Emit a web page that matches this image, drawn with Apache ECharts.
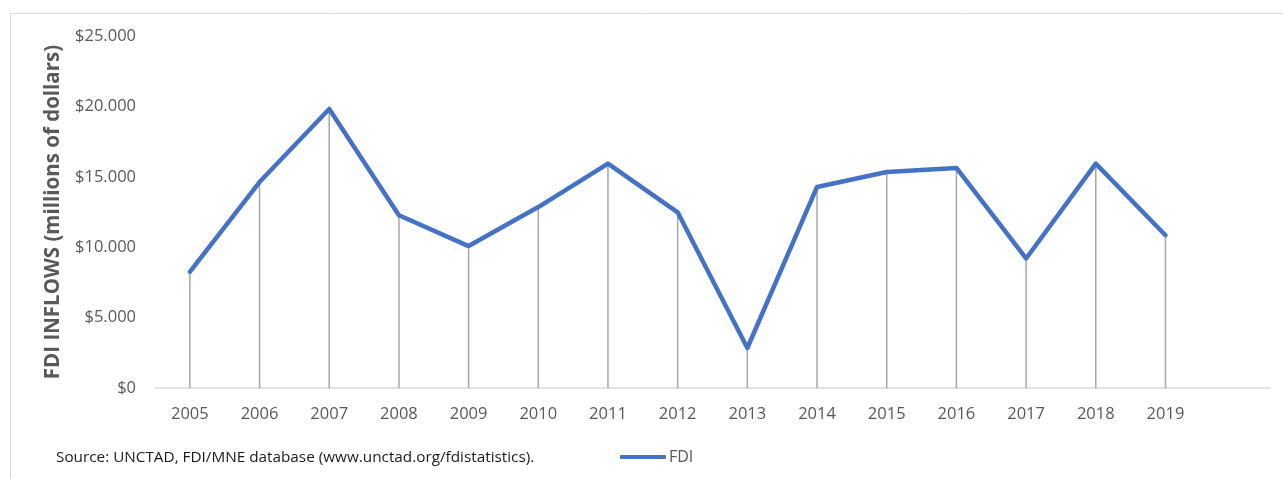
<!DOCTYPE html>
<html>
<head>
<meta charset="utf-8">
<script src="https://cdn.jsdelivr.net/npm/echarts@6/dist/echarts.min.js"></script>
<style>
  html, body { margin: 0; padding: 0; background: #ffffff; }
  #chart { width: 1283px; height: 479px; }
</style>
</head>
<body>
<div id="chart"></div>
<script>
// FDI inflows by year, millions of dollars
const years = ['2005', '2006', '2007', '2008', '2009', '2010', '2011', '2012', '2013', '2014', '2015', '2016', '2017', '2018', '2019', ''];
const fdiValues = [8250, 14630, 19820, 12270, 10080, 12850, 15940, 12480, 2840, 14280, 15340, 15630, 9200, 15940, 10850, null];
const yTicks = [0, 5000, 10000, 15000, 20000, 25000];

function formatDollar(v) {
  if (v === 0) return '$0';
  const s = String(Math.round(v));
  return '$' + s.replace(/\B(?=(\d{3})+(?!\d))/g, '.');
}

const chart = echarts.init(document.getElementById('chart'), null, { renderer: 'canvas' });

chart.setOption({
  animation: false,
  backgroundColor: '#ffffff',
  graphic: [
    {
      type: 'rect',
      shape: { x: 10.5, y: 13.5, width: 1300, height: 500 },
      style: { fill: 'none', stroke: '#d9d9d9', lineWidth: 1 },
      silent: true
    },
    {
      type: 'text',
      left: 56,
      top: 450,
      style: {
        text: 'Source: UNCTAD, FDI/MNE database (www.unctad.org/fdistatistics).',
        font: '15.3px "Open Sans", sans-serif',
        fill: '#1a1a1a'
      }
    }
  ],
  legend: {
    data: ['FDI'],
    left: 615,
    top: 444,
    icon: 'roundRect',
    itemWidth: 46,
    itemHeight: 4,
    itemGap: 4,
    textStyle: { color: '#595959', fontSize: 16, fontFamily: '"Open Sans", sans-serif', padding: [0, 0, 0, -2] }
  },
  grid: { left: 155, right: 13, top: 36, bottom: 91 },
  xAxis: {
    type: 'category',
    data: years,
    boundaryGap: true,
    axisLine: { show: true, lineStyle: { color: '#d9d9d9', width: 1.5 } },
    axisTick: { show: false },
    axisLabel: { color: '#595959', fontSize: 16.5, fontFamily: '"Open Sans", sans-serif', margin: 18 },
    splitLine: { show: false }
  },
  yAxis: {
    type: 'value',
    min: yTicks[0],
    max: yTicks[yTicks.length - 1],
    interval: yTicks[1] - yTicks[0],
    name: 'FDI INFLOWS (millions of dollars)',
    nameLocation: 'middle',
    nameGap: 91,
    nameTextStyle: { color: '#595959', fontSize: 20.5, fontWeight: 'bold', fontFamily: '"Open Sans", sans-serif' },
    axisLine: { show: false },
    axisTick: { show: false },
    splitLine: { show: false },
    axisLabel: {
      color: '#595959',
      fontSize: 16.5,
      fontFamily: '"Open Sans", sans-serif',
      margin: 19,
      formatter: formatDollar
    }
  },
  series: [
    {
      name: 'drop',
      type: 'bar',
      data: fdiValues,
      barWidth: 1.5,
      itemStyle: { color: '#a6a6a6' },
      silent: true,
      z: 1
    },
    {
      name: 'FDI',
      type: 'line',
      data: fdiValues,
      showSymbol: false,
      symbol: 'none',
      lineStyle: { color: '#4472c4', width: 4.5, join: 'round', cap: 'round' },
      itemStyle: { color: '#4472c4' },
      z: 3
    }
  ]
});
</script>
</body>
</html>
